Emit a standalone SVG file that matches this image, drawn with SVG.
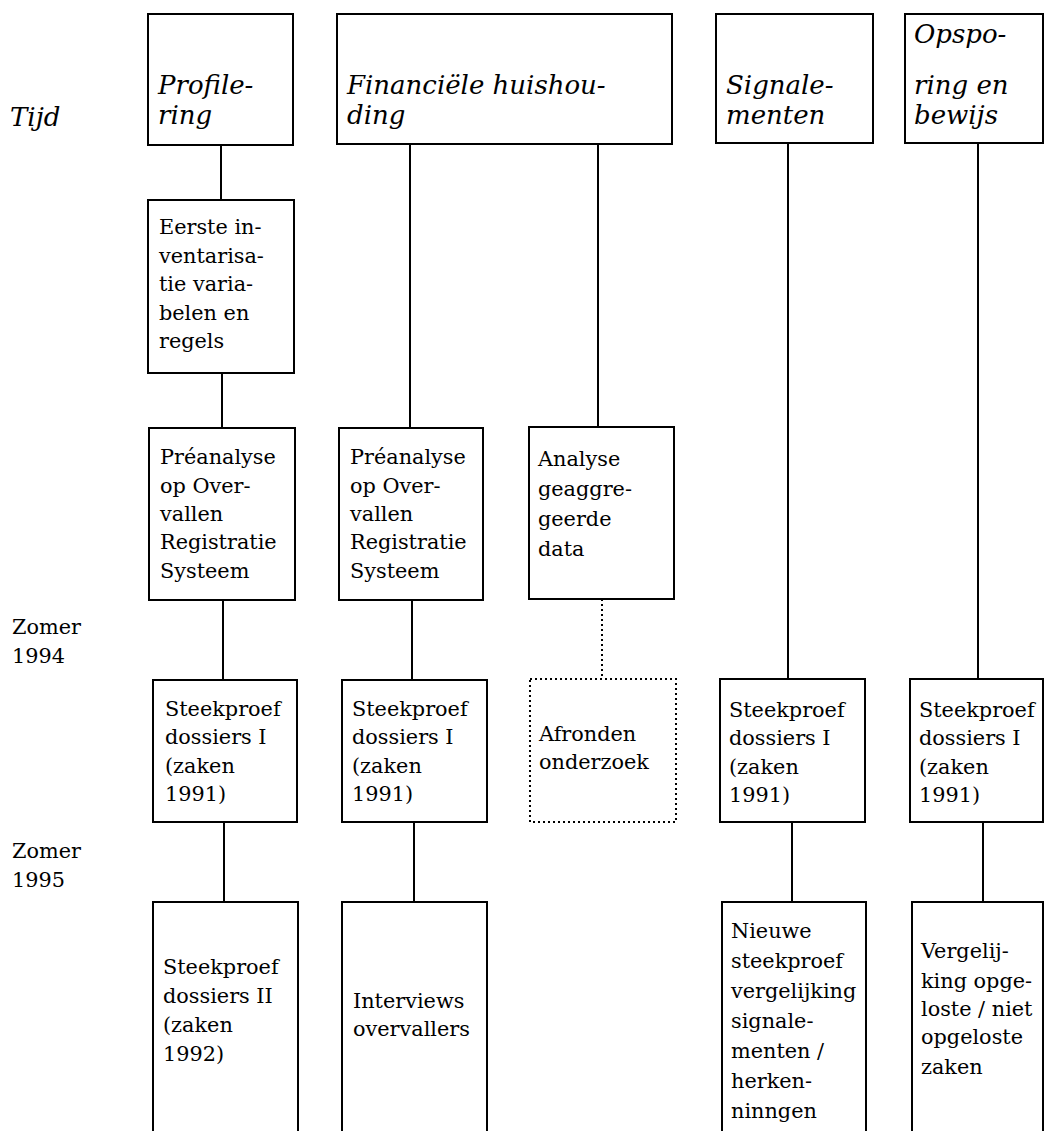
<svg xmlns="http://www.w3.org/2000/svg" width="1045" height="1131" viewBox="0 0 1045 1131">
<style>
.box{fill:#fff;stroke:#000;stroke-width:2}
.dot{fill:none;stroke:#000;stroke-width:2;stroke-dasharray:2 3}
.ln{stroke:#000;stroke-width:2;fill:none}
.dl{stroke:#000;stroke-width:2;stroke-dasharray:2 3;fill:none}
text{font-family:"DejaVu Serif","Liberation Serif",serif;font-size:20.8px;fill:#000}
.hd{font-style:italic;font-size:26px}
</style>
<rect width="1045" height="1131" fill="#fff"/>
<g id="connectors">
<line class="ln" x1="221" y1="145" x2="221" y2="200"/>
<line class="ln" x1="222" y1="373" x2="222" y2="428"/>
<line class="ln" x1="223" y1="600" x2="223" y2="680"/>
<line class="ln" x1="224" y1="822" x2="224" y2="902"/>
<line class="ln" x1="410" y1="144" x2="410" y2="428"/>
<line class="ln" x1="412" y1="600" x2="412" y2="680"/>
<line class="ln" x1="414" y1="822" x2="414" y2="902"/>
<line class="ln" x1="598" y1="144" x2="598" y2="427"/>
<line class="dl" x1="602" y1="599" x2="602" y2="679"/>
<line class="ln" x1="788" y1="143" x2="788" y2="679"/>
<line class="ln" x1="792" y1="822" x2="792" y2="902"/>
<line class="ln" x1="978" y1="143" x2="978" y2="679"/>
<line class="ln" x1="983" y1="822" x2="983" y2="902"/>
</g>
<g id="labels">
<text class="hd" x="10" y="126">Tijd</text>
<text x="12" y="634">Zomer</text>
<text x="12" y="663">1994</text>
<text x="12" y="858">Zomer</text>
<text x="12" y="887">1995</text>
</g>
<g id="h-profilering">
<rect class="box" x="148" y="14" width="145" height="131"/>
<text class="hd" x="158" y="94">Profile-</text>
<text class="hd" x="158" y="124">ring</text>
</g>
<g id="h-financieel">
<rect class="box" x="337" y="14" width="335" height="130"/>
<text class="hd" x="347" y="94">Financiële huishou-</text>
<text class="hd" x="347" y="124">ding</text>
</g>
<g id="h-signalementen">
<rect class="box" x="716" y="14" width="157" height="129"/>
<text class="hd" x="726" y="94">Signale-</text>
<text class="hd" x="726" y="124">menten</text>
</g>
<g id="h-opsporing">
<rect class="box" x="905" y="14" width="138" height="129"/>
<text class="hd" x="914" y="43">Opspo-</text>
<text class="hd" x="914" y="94">ring en</text>
<text class="hd" x="914" y="124">bewijs</text>
</g>
<g id="eerste">
<rect class="box" x="148" y="200" width="146" height="173"/>
<text x="159" y="234">Eerste in-</text>
<text x="159" y="263">ventarisa-</text>
<text x="159" y="291">tie varia-</text>
<text x="159" y="320">belen en</text>
<text x="159" y="348">regels</text>
</g>
<g id="preanalyse1">
<rect class="box" x="149" y="428" width="146" height="172"/>
<text x="160" y="464">Préanalyse</text>
<text x="160" y="493">op Over-</text>
<text x="160" y="521">vallen</text>
<text x="160" y="549">Registratie</text>
<text x="160" y="578">Systeem</text>
</g>
<g id="preanalyse2">
<rect class="box" x="339" y="428" width="144" height="172"/>
<text x="350" y="464">Préanalyse</text>
<text x="350" y="493">op Over-</text>
<text x="350" y="521">vallen</text>
<text x="350" y="549">Registratie</text>
<text x="350" y="578">Systeem</text>
</g>
<g id="analyse">
<rect class="box" x="529" y="427" width="145" height="172"/>
<text x="538" y="466">Analyse</text>
<text x="538" y="496">geaggre-</text>
<text x="538" y="526">geerde</text>
<text x="538" y="556">data</text>
</g>
<g id="afronden">
<rect class="dot" x="530" y="679" width="146" height="143"/>
<text x="539" y="741">Afronden</text>
<text x="539" y="769">onderzoek</text>
</g>
<g id="steek1">
<rect class="box" x="153" y="680" width="144" height="142"/>
<text x="165" y="716">Steekproef</text>
<text x="165" y="744">dossiers I</text>
<text x="165" y="773">(zaken</text>
<text x="165" y="801">1991)</text>
</g>
<g id="steek2">
<rect class="box" x="342" y="680" width="145" height="142"/>
<text x="352" y="716">Steekproef</text>
<text x="352" y="744">dossiers I</text>
<text x="352" y="773">(zaken</text>
<text x="352" y="801">1991)</text>
</g>
<g id="steek3">
<rect class="box" x="720" y="679" width="145" height="143"/>
<text x="729" y="717">Steekproef</text>
<text x="729" y="745">dossiers I</text>
<text x="729" y="774">(zaken</text>
<text x="729" y="802">1991)</text>
</g>
<g id="steek4">
<rect class="box" x="910" y="679" width="133" height="143"/>
<text x="919" y="717">Steekproef</text>
<text x="919" y="745">dossiers I</text>
<text x="919" y="774">(zaken</text>
<text x="919" y="802">1991)</text>
</g>
<g id="steek-ii">
<rect class="box" x="153" y="902" width="145" height="240"/>
<text x="163" y="974">Steekproef</text>
<text x="163" y="1003">dossiers II</text>
<text x="163" y="1032">(zaken</text>
<text x="163" y="1061">1992)</text>
</g>
<g id="interviews">
<rect class="box" x="342" y="902" width="145" height="240"/>
<text x="353" y="1008">Interviews</text>
<text x="353" y="1036">overvallers</text>
</g>
<g id="nieuwe">
<rect class="box" x="722" y="902" width="144" height="240"/>
<text x="731" y="938">Nieuwe</text>
<text x="731" y="968">steekproef</text>
<text x="731" y="998">vergelijking</text>
<text x="731" y="1028">signale-</text>
<text x="731" y="1058">menten /</text>
<text x="731" y="1088">herken-</text>
<text x="731" y="1118">ninngen</text>
</g>
<g id="vergelijking">
<rect class="box" x="912" y="902" width="131" height="240"/>
<text x="921" y="958">Vergelij-</text>
<text x="921" y="988">king opge-</text>
<text x="921" y="1016">loste / niet</text>
<text x="921" y="1044">opgeloste</text>
<text x="921" y="1074">zaken</text>
</g>
</svg>
